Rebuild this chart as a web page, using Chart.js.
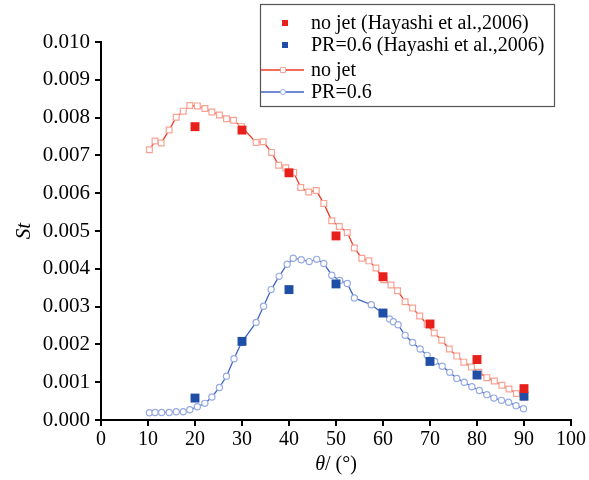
<!DOCTYPE html>
<html>
<head>
<meta charset="utf-8">
<script src="https://cdn.jsdelivr.net/npm/chart.js@4.4.0/dist/chart.umd.min.js"></script>
<style>
  html, body { margin: 0; padding: 0; background: #fff; }
  #wrap { width: 589px; height: 480px; }
</style>
</head>
<body>
<div id="wrap"><canvas id="St"></canvas></div>
<script>
// tick labels
const xTicks = [0, 10, 20, 30, 40, 50, 60, 70, 80, 90, 100]
const yTicks = [0, 0.001, 0.002, 0.003, 0.004, 0.005, 0.006, 0.007, 0.008, 0.009, 0.010]

// Hayashi et al. 2006 measurements
const expTheta = [20, 30, 40, 50, 60, 70, 80, 90]
const expNoJet = [0.00776, 0.00767, 0.00654, 0.00487, 0.00379, 0.00254, 0.00160, 0.00083]
const expPR06 = [0.00058, 0.00208, 0.00345, 0.00360, 0.00283, 0.00155, 0.00119, 0.00063]

// computed, no jet
const noJetTheta = [10.3, 11.5, 12.8, 14.5, 16.0, 17.5, 18.9, 20.5, 22.1, 23.6, 25.2, 26.7, 28.2, 29.9,
    33.0, 34.5, 36.3, 37.8, 39.3, 41.0, 42.5, 44.2, 45.8, 47.4, 49.1, 50.7, 52.4, 53.9, 55.5, 57.0,
    58.5, 60.2, 61.7, 63.1, 64.7, 66.3, 67.8, 69.4, 70.9, 72.5, 74.1, 75.7, 77.2, 78.8, 80.4, 82.1,
    83.7, 85.3, 86.8, 88.4, 89.9]
const noJetSt = [0.00715, 0.00738, 0.00733, 0.00767, 0.00801, 0.00817, 0.00832, 0.00831, 0.00824, 0.00815,
    0.00807, 0.00797, 0.00793, 0.00776, 0.00734, 0.00736, 0.00708, 0.00674, 0.00667, 0.00655, 0.00615,
    0.00603, 0.00607, 0.00573, 0.00527, 0.00512, 0.00496, 0.00455, 0.00428, 0.00421, 0.00402, 0.00371,
    0.00357, 0.00342, 0.00313, 0.00296, 0.00275, 0.00253, 0.00230, 0.00211, 0.00188, 0.00169, 0.00153,
    0.00140, 0.00126, 0.00112, 0.00103, 0.00092, 0.00082, 0.00070, 0.00061]

// computed, PR=0.6
const prTheta = [10.3, 11.5, 12.9, 14.5, 16.0, 17.5, 18.9, 20.5, 22.1, 23.6, 25.2, 26.7, 28.3, 29.9,
    33.0, 34.6, 36.2, 37.9, 39.6, 40.9, 42.6, 44.3, 45.9, 47.4, 49.1, 50.8, 52.4, 53.9, 57.5, 59.8,
    61.4, 62.2, 63.2, 64.7, 66.3, 67.9, 69.4, 71.0, 72.6, 74.2, 75.7, 77.3, 78.9, 80.5, 82.1, 83.6,
    85.2, 86.7, 88.3, 89.9]
const prSt = [0.00019, 0.00020, 0.00020, 0.00020, 0.00022, 0.00022, 0.00027, 0.00035, 0.00044, 0.00061,
    0.00086, 0.00116, 0.00162, 0.00205, 0.00258, 0.00301, 0.00345, 0.00380, 0.00412, 0.00428, 0.00424,
    0.00419, 0.00425, 0.00414, 0.00383, 0.00369, 0.00361, 0.00323, 0.00305, 0.00284, 0.00267, 0.00260,
    0.00252, 0.00224, 0.00205, 0.00188, 0.00171, 0.00155, 0.00142, 0.00126, 0.00110, 0.00100, 0.00088,
    0.00078, 0.00067, 0.00058, 0.00052, 0.00047, 0.00038, 0.00030]

const pts = (xs, ys) => xs.map((x, i) => ({x: x, y: ys[i]}))

const FONT = "'Liberation Serif', 'Times New Roman', serif"
const RED = '#ef3a2a', RED_PT = '#f7a394'
const BLUE = '#3f63c4', BLUE_PT = '#97abe2'

// legend box drawn by hand so it can sit over the plot like the original
const legendBox = {
    id: 'legendBox',
    afterDraw(chart) {
        const ctx = chart.ctx
        const x0 = 260, y0 = 4, w = 294, h = 102
        ctx.save()
        ctx.fillStyle = '#fff'
        ctx.fillRect(x0, y0, w, h)
        ctx.strokeStyle = '#555'
        ctx.lineWidth = 1.2
        ctx.strokeRect(x0 + 0.5, y0 + 0.5, w, h)
        ctx.font = '20px ' + FONT
        ctx.textBaseline = 'middle'
        ctx.fillStyle = '#000'
        const rows = [23, 45, 70, 92]
        chart.data.datasets.forEach((ds, i) => {
            const y = rows[i]
            if (ds.showLine === false) {
                ctx.fillStyle = ds.pointBackgroundColor
                ctx.fillRect(282, y - 3, 6, 6)
            } else {
                ctx.strokeStyle = ds.borderColor
                ctx.lineWidth = 1.3
                ctx.beginPath(); ctx.moveTo(261, y); ctx.lineTo(304, y); ctx.stroke()
                ctx.fillStyle = '#fff'
                ctx.strokeStyle = ds.pointBorderColor
                ctx.lineWidth = 1
                ctx.beginPath()
                if (ds.pointStyle === 'circle') ctx.arc(283, y, 2.5, 0, Math.PI * 2)
                else ctx.rect(280.5, y - 2.5, 5, 5)
                ctx.fill(); ctx.stroke()
            }
            ctx.fillStyle = '#000'
            ctx.fillText(ds.label, 311, y + 1)
        })
        ctx.restore()
    }
}

// x title with italic theta
const xTitle = {
    id: 'xTitle',
    afterDraw(chart) {
        const ctx = chart.ctx
        const a = chart.chartArea
        ctx.save()
        ctx.fillStyle = '#000'
        ctx.textBaseline = 'middle'
        const t1 = 'θ', t2 = '/ (°)'
        ctx.font = '20px ' + FONT
        const w2 = ctx.measureText(t2).width
        ctx.font = 'italic 20px ' + FONT
        const w1 = ctx.measureText(t1).width
        let x = (a.left + a.right) / 2 - (w1 + w2) / 2
        ctx.textAlign = 'left'
        ctx.fillText(t1, x, 465)
        ctx.font = '20px ' + FONT
        ctx.fillText(t2, x + w1, 465)
        ctx.restore()
    }
}

const config = {
    type: 'scatter',
    data: {
        datasets: [
            {
                label: 'no jet (Hayashi et al.,2006)',
                data: pts(expTheta, expNoJet),
                showLine: false,
                pointStyle: 'rect',
                pointRadius: 6.3,
                pointBackgroundColor: '#e8201c',
                pointBorderColor: '#e8201c',
                pointBorderWidth: 0
            },
            {
                label: 'PR=0.6 (Hayashi et al.,2006)',
                data: pts(expTheta, expPR06),
                showLine: false,
                pointStyle: 'rect',
                pointRadius: 6.3,
                pointBackgroundColor: '#1f4ea6',
                pointBorderColor: '#1f4ea6',
                pointBorderWidth: 0
            },
            {
                label: 'no jet',
                data: pts(noJetTheta, noJetSt),
                showLine: true,
                borderColor: RED,
                borderWidth: 1.3,
                tension: 0,
                pointStyle: 'rect',
                pointRadius: 4.1,
                pointBackgroundColor: '#fff',
                pointBorderColor: RED_PT,
                pointBorderWidth: 1.2
            },
            {
                label: 'PR=0.6',
                data: pts(prTheta, prSt),
                showLine: true,
                borderColor: BLUE,
                borderWidth: 1.3,
                tension: 0,
                pointStyle: 'circle',
                pointRadius: 3.1,
                pointBackgroundColor: '#fff',
                pointBorderColor: BLUE_PT,
                pointBorderWidth: 1.2
            }
        ]
    },
    options: {
        responsive: true,
        maintainAspectRatio: false,
        animation: false,
        layout: { padding: { left: 0, right: 18, top: 42, bottom: 0 } },
        plugins: { legend: { display: false }, tooltip: { enabled: false } },
        scales: {
            x: {
                type: 'linear',
                min: 0, max: 100,
                afterBuildTicks: s => { s.ticks = xTicks.map(v => ({value: v})) },
                afterFit: s => { s.height = 60 },
                border: { color: '#000', width: 2 },
                grid: { drawOnChartArea: false, color: '#000', tickLength: 6, lineWidth: 2 },
                ticks: { color: '#000', font: { family: FONT, size: 20 }, padding: 2, maxRotation: 0 }
            },
            y: {
                type: 'linear',
                min: 0, max: 0.010,
                afterBuildTicks: s => { s.ticks = yTicks.map(v => ({value: v})) },
                afterFit: s => { s.width = 101 },
                border: { color: '#000', width: 2 },
                grid: { drawOnChartArea: false, color: '#000', tickLength: 6, lineWidth: 2 },
                ticks: {
                    color: '#000', font: { family: FONT, size: 21 }, padding: 5,
                    callback: v => v.toFixed(3)
                },
                title: {
                    display: true, text: 'St', color: '#000',
                    font: { family: FONT, size: 21, style: 'italic' },
                    padding: { top: 12, bottom: 0 }
                }
            }
        }
    },
    plugins: [legendBox, xTitle]
}

new Chart(document.getElementById('St'), config)
</script>
</body>
</html>
